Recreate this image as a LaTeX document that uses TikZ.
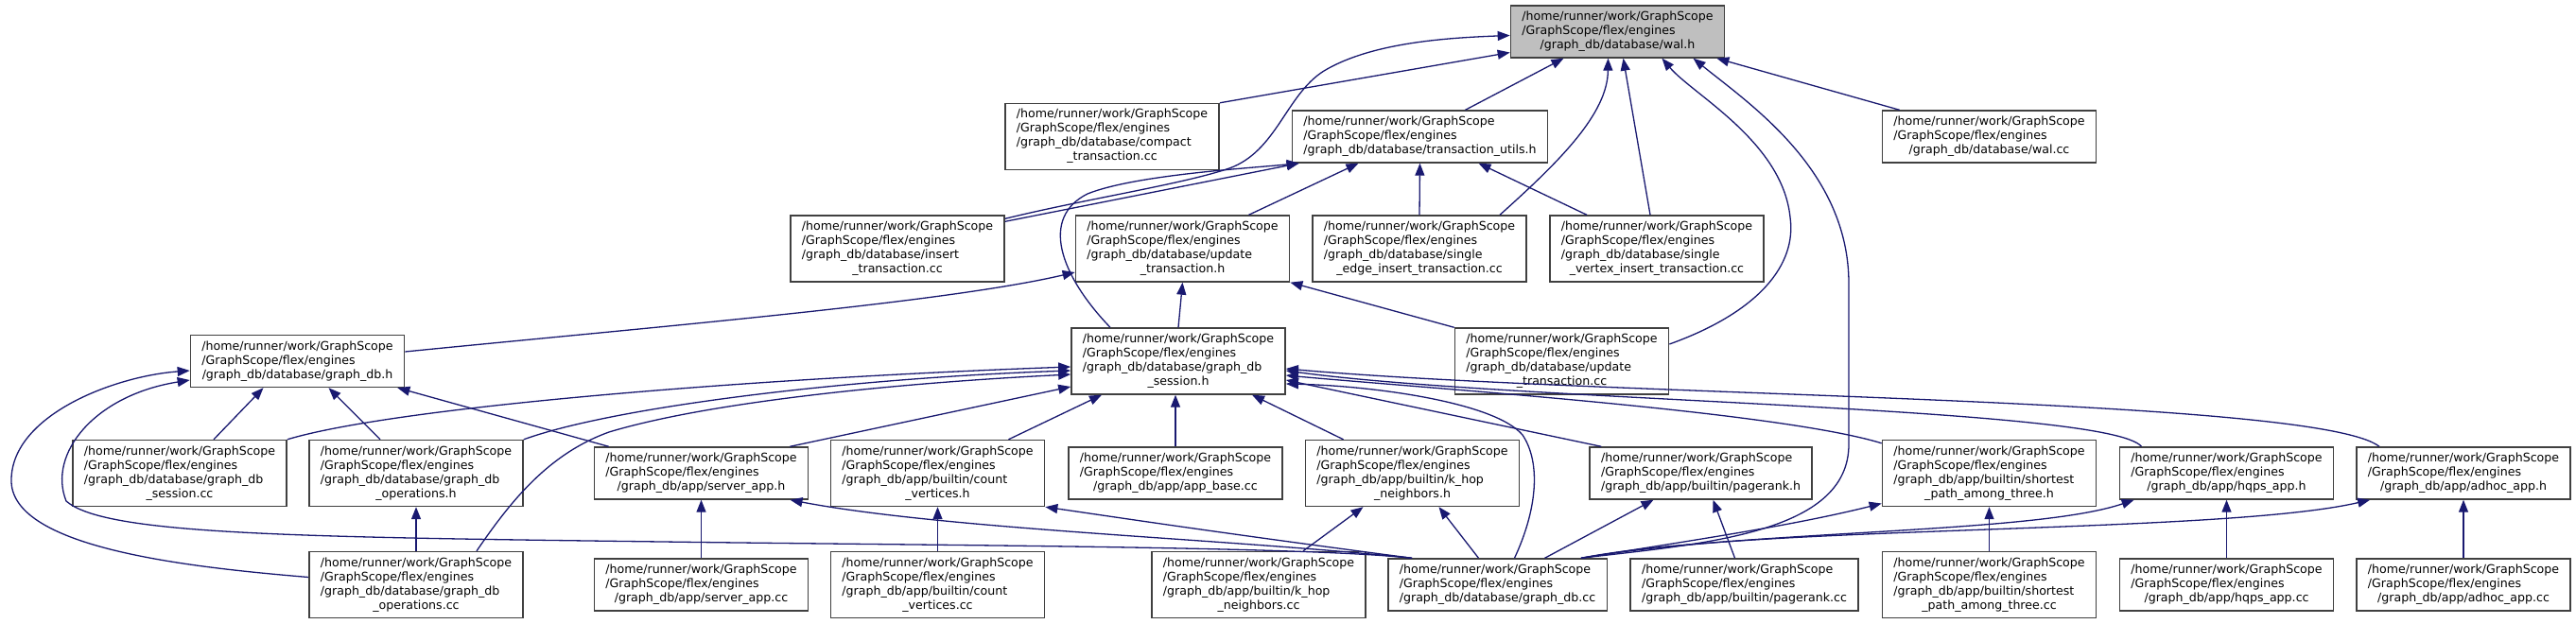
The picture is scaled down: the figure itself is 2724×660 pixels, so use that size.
\documentclass[tikz,border=0pt]{standalone}
\usepackage{fontspec}
\setmainfont{DejaVu Sans}
\usetikzlibrary{arrows.meta,calc}
\definecolor{edgeblue}{HTML}{191970}
\definecolor{nodegray}{HTML}{BFBFBF}
\newcommand{\hp}{/home/runner/work/GraphScope\\/GraphScope/flex/engines}
\newcommand{\nt}[2]{\begin{tabular}{@{}l@{}}#1\\\multicolumn{1}{@{}c@{}}{#2}\end{tabular}}
\begin{document}
\begin{tikzpicture}[x=1pt,y=-1pt,
  dnode/.style={draw=black!75, line width=1.4pt, fill=white, inner xsep=12pt, inner ysep=5pt, font=\fontsize{12.6pt}{15pt}\selectfont},
  dedge/.style={draw=edgeblue, line width=1.3pt, -{Triangle[length=13pt,width=10pt]}}]
\fill[white] (0,0) rectangle (2724,660);
\useasboundingbox (0,0) rectangle (2724,660);
% rank 0
\node[dnode,fill=nodegray] (walh) at (1710.5,33.5) {\nt{\hp}{/graph\_db/database/wal.h}};
% rank 1
\node[dnode] (compact) at (1176,144.5) {\nt{\hp\\/graph\_db/database/compact}{\_transaction.cc}};
\node[dnode] (tutils) at (1501.5,144.5) {\nt{\hp}{/graph\_db/database/transaction\_utils.h}};
\node[dnode] (walcc) at (2103.5,144.5) {\nt{\hp}{/graph\_db/database/wal.cc}};
% rank 2
\node[dnode] (insert) at (949,263) {\nt{\hp\\/graph\_db/database/insert}{\_transaction.cc}};
\node[dnode] (updh) at (1250.5,263) {\nt{\hp\\/graph\_db/database/update}{\_transaction.h}};
\node[dnode] (sedge) at (1501,263) {\nt{\hp\\/graph\_db/database/single}{\_edge\_insert\_transaction.cc}};
\node[dnode] (svert) at (1752,263) {\nt{\hp\\/graph\_db/database/single}{\_vertex\_insert\_transaction.cc}};
% rank 3
\node[dnode] (gdbh) at (314.5,382) {\nt{\hp}{/graph\_db/database/graph\_db.h}};
\node[dnode] (sessh) at (1246,382) {\nt{\hp\\/graph\_db/database/graph\_db}{\_session.h}};
\node[dnode] (updcc) at (1651.5,382) {\nt{\hp\\/graph\_db/database/update}{\_transaction.cc}};
% rank 4
\node[dnode] (sesscc) at (190,500.5) {\nt{\hp\\/graph\_db/database/graph\_db}{\_session.cc}};
\node[dnode] (opsh) at (440,500.5) {\nt{\hp\\/graph\_db/database/graph\_db}{\_operations.h}};
\node[dnode] (serverh) at (741.5,500.5) {\nt{\hp}{/graph\_db/app/server\_app.h}};
\node[dnode] (counth) at (991.5,500.5) {\nt{\hp\\/graph\_db/app/builtin/count}{\_vertices.h}};
\node[dnode] (appbase) at (1243,500.5) {\nt{\hp}{/graph\_db/app/app\_base.cc}};
\node[dnode] (khoph) at (1493.5,500.5) {\nt{\hp\\/graph\_db/app/builtin/k\_hop}{\_neighbors.h}};
\node[dnode] (prh) at (1798.5,500.5) {\nt{\hp}{/graph\_db/app/builtin/pagerank.h}};
\node[dnode] (sph) at (2103.5,500.5) {\nt{\hp\\/graph\_db/app/builtin/shortest}{\_path\_among\_three.h}};
\node[dnode] (hqpsh) at (2354.5,500.5) {\nt{\hp}{/graph\_db/app/hqps\_app.h}};
\node[dnode] (adhoch) at (2605,500.5) {\nt{\hp}{/graph\_db/app/adhoc\_app.h}};
% rank 5
\node[dnode] (opscc) at (440,618.5) {\nt{\hp\\/graph\_db/database/graph\_db}{\_operations.cc}};
\node[dnode] (servercc) at (741.5,618.5) {\nt{\hp}{/graph\_db/app/server\_app.cc}};
\node[dnode] (countcc) at (991.5,618.5) {\nt{\hp\\/graph\_db/app/builtin/count}{\_vertices.cc}};
\node[dnode] (khopcc) at (1331,618.5) {\nt{\hp\\/graph\_db/app/builtin/k\_hop}{\_neighbors.cc}};
\node[dnode] (gdbcc) at (1583.5,618.5) {\nt{\hp}{/graph\_db/database/graph\_db.cc}};
\node[dnode] (prcc) at (1844.5,618.5) {\nt{\hp}{/graph\_db/app/builtin/pagerank.cc}};
\node[dnode] (spcc) at (2103.5,618.5) {\nt{\hp\\/graph\_db/app/builtin/shortest}{\_path\_among\_three.cc}};
\node[dnode] (hqpscc) at (2354.5,618.5) {\nt{\hp}{/graph\_db/app/hqps\_app.cc}};
\node[dnode] (adhoccc) at (2605,618.5) {\nt{\hp}{/graph\_db/app/adhoc\_app.cc}};

% edges to wal.h
\draw[dedge] (compact.north east) -- ($(walh.west)+(0,22)$);
\draw[dedge] ($(insert.north east)+(0,4)$) .. controls (1150,210) and (1250,195) .. (1300,178) .. controls (1350,160) and (1360,100) .. (1400,75) .. controls (1450,45) and (1530,40) .. ($(walh.west)+(0,4)$);
\draw[dedge] ($(tutils.north)+(48,0)$) -- ($(walh.south)+(-57,0)$);
\draw[dedge] ($(sedge.north)+(85,0)$) .. controls (1650,170) and (1700,120) .. ($(walh.south)+(-10,0)$);
\draw[dedge] ($(svert.north)+(-7,0)$) -- ($(walh.south)+(6,0)$);
\draw[dedge] ($(updcc.east)+(0,-18)$) .. controls (1860,330) and (1900,280) .. (1893,230) .. controls (1885,150) and (1790,100) .. ($(walh.south)+(47,0)$);
\draw[dedge] ($(gdbcc.north east)+(-28,0)$) .. controls (1800,575) and (1955,565) .. (1955,470) -- (1955,300) .. controls (1955,180) and (1850,110) .. ($(walh.south)+(80,0)$);
\draw[dedge] ($(walcc.north west)+(19,0)$) -- ($(walh.south east)+(-9,0)$);
% edges to transaction_utils.h
\draw[dedge] ($(insert.north east)+(0,7)$) -- ($(tutils.south west)+(8,0)$);
\draw[dedge] ($(sessh.north)+(-72,0)$) .. controls (1120,290) and (1100,230) .. (1150,205) .. controls (1200,185) and (1320,178) .. ($(tutils.south west)+(8,0)$);
\draw[dedge] ($(updh.north)+(70,0)$) -- ($(tutils.south)+(-65,0)$);
\draw[dedge] (sedge.north) -- (tutils.south);
\draw[dedge] ($(svert.north)+(-74,0)$) -- ($(tutils.south)+(62,0)$);
% edges to update_transaction.h
\draw[dedge] ($(gdbh.east)+(0,-10)$) .. controls (700,345) and (1000,320) .. ($(updh.west)+(0,25)$);
\draw[dedge] (sessh.north) -- (updh.south);
\draw[dedge] (updcc.north west) -- (updh.south east);
% edges to graph_db.h
\draw[dedge] ($(opscc.west)+(0,-8)$) .. controls (200,600) and (15,580) .. (12,510) .. controls (10,440) and (120,398) .. ($(gdbh.west)+(0,10)$);
\draw[dedge] ($(gdbcc.north west)+(26,0)$) .. controls (1380,578) and (1000,577) .. (700,573) .. controls (300,568) and (110,565) .. (70,530) .. controls (50,480) and (100,418) .. ($(gdbh.west)+(0,20)$);
\draw[dedge] ($(sesscc.north)+(36,0)$) -- ($(gdbh.south)+(-36,0)$);
\draw[dedge] ($(opsh.north)+(-38,0)$) -- ($(gdbh.south)+(33,0)$);
\draw[dedge] ($(serverh.north west)+(16,0)$) -- ($(gdbh.south east)+(-8,0)$);
% edges to graph_db_session.h
\draw[dedge] (sesscc.north east) .. controls (420,430) and (800,400) .. ($(sessh.west)+(0,6)$);
\draw[dedge] (opsh.north east) .. controls (650,430) and (900,400) .. ($(sessh.west)+(0,10)$);
\draw[dedge] ($(opscc.north)+(64,0)$) .. controls (540,530) and (580,480) .. (644,457) .. controls (750,425) and (950,405) .. ($(sessh.west)+(0,14)$);
\draw[dedge] ($(serverh.north east)+(-20,0)$) -- ($(sessh.west)+(0,27)$);
\draw[dedge] ($(counth.north)+(75,0)$) -- ($(sessh.south)+(-81,0)$);
\draw[dedge] (appbase.north) -- ($(sessh.south)+(-3,0)$);
\draw[dedge] ($(khoph.north)+(-73,0)$) -- ($(sessh.south)+(78,0)$);
\draw[dedge] ($(gdbcc.north)+(18,0)$) .. controls (1625,540) and (1630,490) .. (1610,460) .. controls (1580,425) and (1450,408) .. ($(sessh.east)+(0,24)$);
\draw[dedge] ($(prh.north west)+(13,0)$) -- ($(sessh.east)+(0,20)$);
\draw[dedge] ($(sph.north west)+(0,4)$) .. controls (1880,435) and (1500,410) .. ($(sessh.east)+(0,15)$);
\draw[dedge] ($(hqpsh.north)+(-90,0)$) .. controls (2230,430) and (1600,425) .. ($(sessh.east)+(0,10)$);
\draw[dedge] ($(adhoch.north)+(-89,0)$) .. controls (2450,420) and (1700,420) .. ($(sessh.east)+(0,8)$);
% edges within lower ranks
\draw[dedge] (opscc.north) -- (opsh.south);
\draw[dedge] (servercc.north) -- (serverh.south);
\draw[dedge] ($(gdbcc.north west)+(26,0)$) .. controls (1300,570) and (1000,560) .. ($(serverh.south)+(94,0)$);
\draw[dedge] (countcc.north) -- (counth.south);
\draw[dedge] ($(gdbcc.north west)+(26,0)$) .. controls (1300,565) and (1200,550) .. (counth.south east);
\draw[dedge] ($(khopcc.north)+(47,0)$) -- ($(khoph.south)+(-52,0)$);
\draw[dedge] ($(gdbcc.north)+(-20,0)$) -- ($(khoph.south)+(28,0)$);
\draw[dedge] ($(prcc.north)+(-10,0)$) -- ($(prh.south)+(13,0)$);
\draw[dedge] ($(gdbcc.north)+(50,0)$) -- ($(prh.south)+(-50,0)$);
\draw[dedge] (spcc.north) -- (sph.south);
\draw[dedge] ($(gdbcc.north east)+(-28,0)$) .. controls (1800,570) and (1900,555) .. ($(sph.west)+(0,32)$);
\draw[dedge] (hqpscc.north) -- (hqpsh.south);
\draw[dedge] ($(gdbcc.north east)+(-28,0)$) .. controls (1850,560) and (2150,565) .. ($(hqpsh.south west)+(16,0)$);
\draw[dedge] (adhoccc.north) -- (adhoch.south);
\draw[dedge] ($(gdbcc.north east)+(-28,0)$) .. controls (1850,555) and (2350,565) .. ($(adhoch.south west)+(15,0)$);
\end{tikzpicture}
\end{document}
